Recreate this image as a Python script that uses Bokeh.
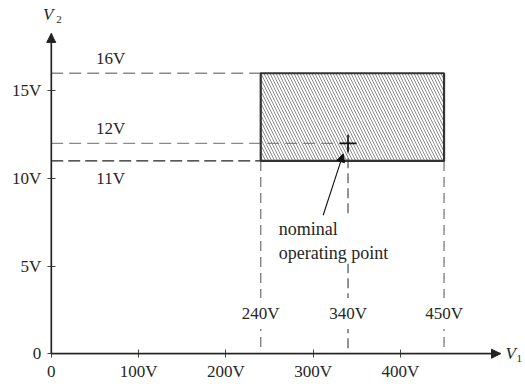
from bokeh.plotting import figure
from bokeh.models import LinearAxis, FixedTicker, Arrow, NormalHead
from bokeh.core.properties import value
from bokeh.embed import file_html
from bokeh.resources import INLINE

# ---- data ----
v1_ticks = [0, 100, 200, 300, 400]
v1_tick_labels = ["0", "100V", "200V", "300V", "400V"]
v2_ticks = [0, 5, 10, 15]
v2_tick_labels = ["0", "5V", "10V", "15V"]

v1_min, v1_nom, v1_max = 240, 340, 450
v2_min, v2_nom, v2_max = 11, 12, 16

v1_marks = [v1_min, v1_nom, v1_max]
v1_mark_labels = ["240V", "340V", "450V"]
v2_marks = [v2_max, v2_nom, v2_min]
v2_mark_labels = ["16V", "12V", "11V"]

note_text = "nominal\noperating point"

# ---- layout constants ----
X_END = 514.7      # x-axis arrow tip (data)
Y_END = 18.27      # y-axis arrow tip (data)
LABEL_X = 68       # x position for V2 mark labels
V1_LABEL_Y = 2.3   # y position for V1 mark labels
NOTE_X, NOTE_Y = 259.5, 7.75
ARROW_FROM = (311.5, 7.9)
ARROW_TO = (334.5, 11.4)

FONT = "Liberation Serif"
FS = "17px"
TXT = "#262626"

p = figure(width=525, height=384,
           x_range=(-58.1, 543.3), y_range=(-1.757, 20.15),
           x_axis_type=None, y_axis_type=None,
           toolbar_location=None, output_backend="svg", min_border=0)
p.outline_line_color = None
p.xgrid.visible = False
p.ygrid.visible = False
p.background_fill_color = "white"

# axes
xa = LinearAxis(fixed_location=0, bounds=(0, X_END),
                ticker=FixedTicker(ticks=v1_ticks),
                major_label_overrides={t: l for t, l in zip(v1_ticks, v1_tick_labels)})
ya = LinearAxis(fixed_location=0, bounds=(0, Y_END),
                ticker=FixedTicker(ticks=v2_ticks),
                major_label_overrides={t: l for t, l in zip(v2_ticks, v2_tick_labels)})
for ax in (xa, ya):
    ax.axis_line_color = "#222222"
    ax.axis_line_width = 1.3
    ax.major_tick_line_color = "#444444"
    ax.major_tick_in = 4
    ax.major_tick_out = 4
    ax.minor_tick_line_color = None
    ax.major_label_text_font = FONT
    ax.major_label_text_font_size = FS
    ax.major_label_text_color = TXT
xa.major_label_standoff = 4
ya.major_label_standoff = 6
p.add_layout(xa, "below")
p.add_layout(ya, "left")

# arrow heads on axes
p.add_layout(Arrow(end=NormalHead(size=9, fill_color="#222222", line_color="#222222"),
                   x_start=0, y_start=0, x_end=X_END, y_end=0,
                   line_color="#222222", line_width=1.3))
p.add_layout(Arrow(end=NormalHead(size=9, fill_color="#222222", line_color="#222222"),
                   x_start=0, y_start=0, x_end=0, y_end=Y_END,
                   line_color="#222222", line_width=1.3))

# horizontal dashed guides
p.segment(x0=[0, 0], y0=[v2_max, v2_nom], x1=[v1_min, v1_nom], y1=[v2_max, v2_nom],
          line_color="#8a8a8a", line_dash="12 6", line_width=1.3)
p.segment(x0=[0], y0=[v2_min], x1=[v1_min], y1=[v2_min],
          line_color="#222222", line_dash="12 5", line_width=1.4)

# vertical dashed guides
p.segment(x0=[v1_min, v1_max], y0=[v2_min, v2_min], x1=[v1_min, v1_max], y1=[0, 0],
          line_color="#7a7a7a", line_dash="10 6", line_width=1.3)
p.segment(x0=[v1_nom], y0=[v2_nom], x1=[v1_nom], y1=[0],
          line_color="#666666", line_dash="10 5", line_width=1.4)

# hatched tolerance rectangle
p.quad(left=[v1_min], right=[v1_max], bottom=[v2_min], top=[v2_max],
       fill_color="white", fill_alpha=0.0,
       hatch_pattern="left_diagonal_line", hatch_color="#6f6f6f",
       hatch_scale=6, hatch_weight=0.8,
       line_color="#333333", line_width=2.2)

# nominal point
p.scatter(x=[v1_nom], y=[v2_nom], marker="cross", size=17,
          line_color="#111111", line_width=1.6)

# V2 mark labels
above = [0, 1]
p.text(x=[LABEL_X] * 2, y=[v2_marks[i] for i in above],
       text=[v2_mark_labels[i] for i in above],
       text_align="center", text_baseline="bottom", y_offset=-5,
       text_font=value(FONT), text_font_size=FS, text_color=TXT)
p.text(x=[LABEL_X], y=[v2_marks[2]], text=[v2_mark_labels[2]],
       text_align="center", text_baseline="top", y_offset=8,
       text_font=value(FONT), text_font_size=FS, text_color=TXT)

# V1 mark labels (interrupting the vertical guides)
p.text(x=v1_marks, y=[V1_LABEL_Y] * 3, text=v1_mark_labels,
       text_align="center", text_baseline="middle",
       background_fill_color="white", padding=6,
       text_font=value(FONT), text_font_size=FS, text_color=TXT)

# annotation (hides the guide behind it)
p.text(x=[NOTE_X], y=[NOTE_Y], text=[note_text],
       text_align="left", text_baseline="top", text_line_height=1.2,
       background_fill_color="white", padding=1,
       text_font=value(FONT), text_font_size="18px", text_color=TXT)
p.add_layout(Arrow(end=NormalHead(size=8, fill_color="#111111", line_color="#111111"),
                   x_start=ARROW_FROM[0], y_start=ARROW_FROM[1],
                   x_end=ARROW_TO[0], y_end=ARROW_TO[1],
                   line_color="#111111", line_width=1.1))

# axis names
p.text(x=[X_END], y=[0], text=["V"], x_offset=5, text_align="left", text_baseline="middle",
       text_font=value(FONT), text_font_style="italic", text_font_size="17px", text_color=TXT)
p.text(x=[X_END], y=[0], text=["1"], x_offset=16, y_offset=5, text_align="left",
       text_baseline="middle",
       text_font=value(FONT), text_font_size="11px", text_color=TXT)
p.text(x=[0], y=[Y_END], text=["V"], x_offset=-3, y_offset=-19, text_align="center",
       text_baseline="middle",
       text_font=value(FONT), text_font_style="italic", text_font_size="17px", text_color=TXT)
p.text(x=[0], y=[Y_END], text=["2"], x_offset=5, y_offset=-14, text_align="left",
       text_baseline="middle",
       text_font=value(FONT), text_font_size="11px", text_color=TXT)

open("out.html", "w").write(file_html(p, INLINE))
